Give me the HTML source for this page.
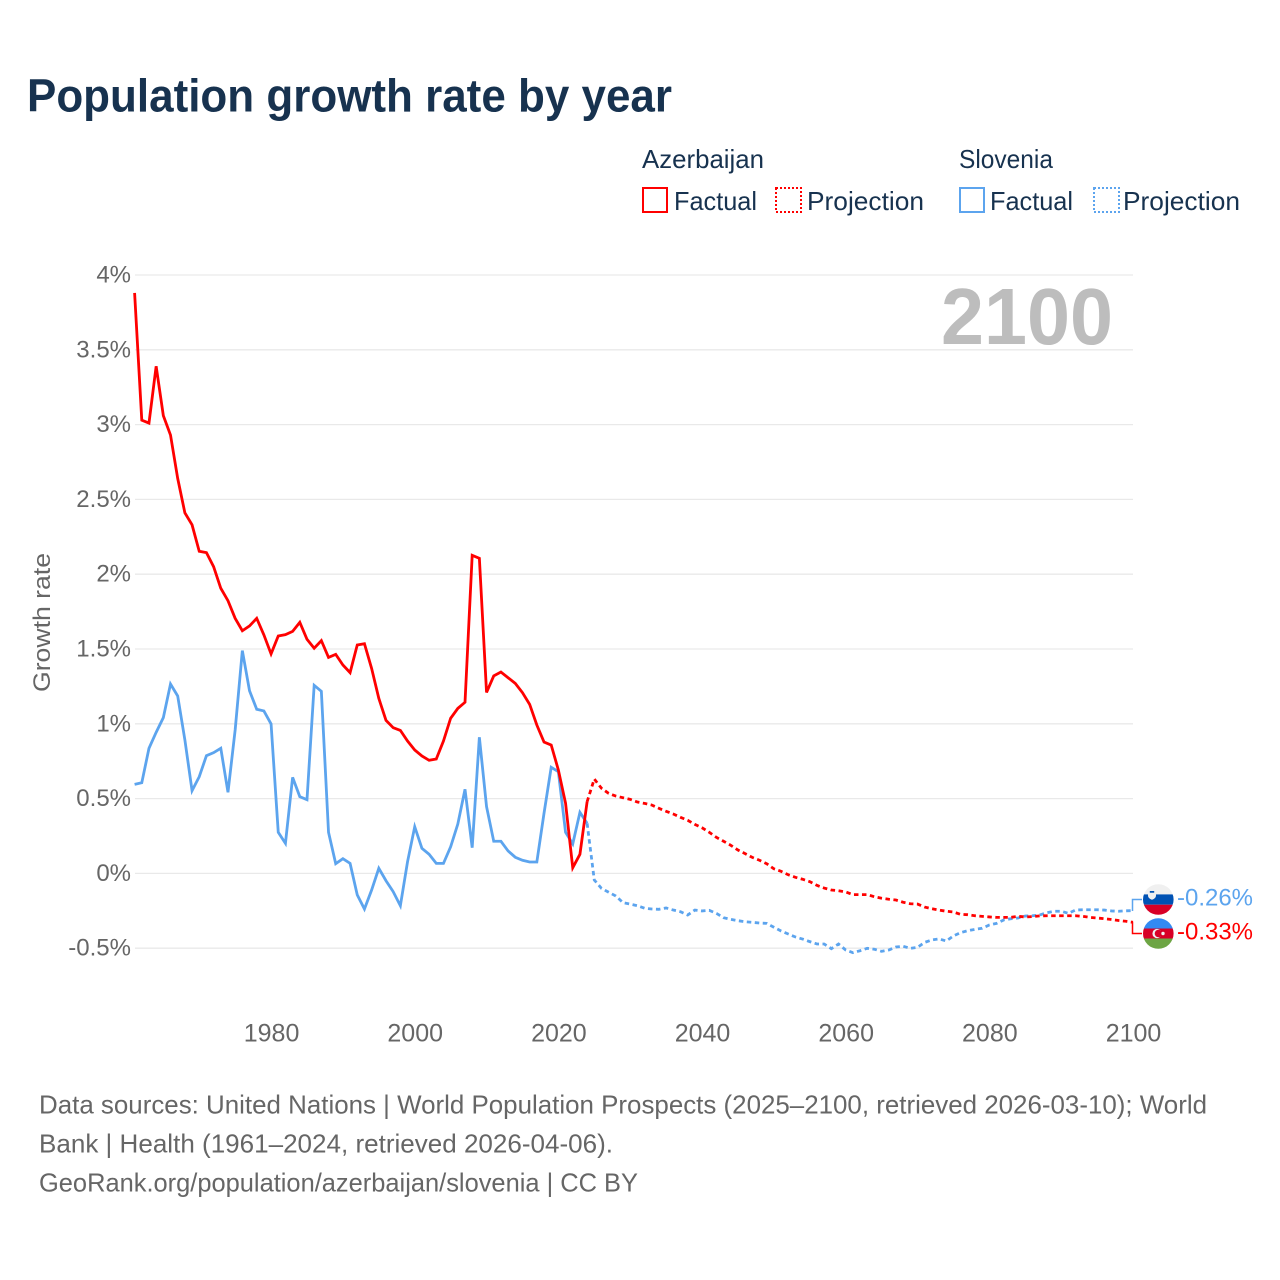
<!DOCTYPE html>
<html lang="en">
<head>
<meta charset="utf-8">
<title>Population growth rate by year</title>
<style>
html,body{margin:0;padding:0;background:#fff}
svg{display:block}
text{font-family:"Liberation Sans",sans-serif}
</style>
</head>
<body>
<svg id="chart" xmlns="http://www.w3.org/2000/svg" width="1280" height="1280" viewBox="0 0 1280 1280">
  <rect x="0" y="0" width="1280" height="1280" fill="#ffffff"/>
  <text x="27" y="111.5" font-size="46" font-weight="700" fill="#17324f" textLength="645" lengthAdjust="spacingAndGlyphs">Population growth rate by year</text>

  <g font-size="26" fill="#17324f">
    <text x="642" y="168" textLength="122" lengthAdjust="spacingAndGlyphs">Azerbaijan</text>
    <text x="959" y="168" textLength="94" lengthAdjust="spacingAndGlyphs">Slovenia</text>
    <rect x="643" y="188" width="24" height="24" fill="none" stroke="#ff0000" stroke-width="2"/>
    <text x="674" y="210" textLength="83" lengthAdjust="spacingAndGlyphs">Factual</text>
    <rect x="776" y="188" width="25" height="24" fill="none" stroke="#ff0000" stroke-width="2" stroke-dasharray="2 2"/>
    <text x="807" y="210" textLength="117" lengthAdjust="spacingAndGlyphs">Projection</text>
    <rect x="960" y="188" width="24" height="24" fill="none" stroke="#5ca4ee" stroke-width="2"/>
    <text x="990" y="210" textLength="83" lengthAdjust="spacingAndGlyphs">Factual</text>
    <rect x="1094" y="188" width="25" height="24" fill="none" stroke="#5ca4ee" stroke-width="2" stroke-dasharray="2 2"/>
    <text x="1123" y="210" textLength="117" lengthAdjust="spacingAndGlyphs">Projection</text>
  </g>

  <g id="grid"></g>
  <g id="yticks" font-size="24" fill="#666666" text-anchor="end"></g>
  <g id="xticks" font-size="25" fill="#666666" text-anchor="middle"></g>
  <text transform="translate(50,622.5) rotate(-90)" font-size="24" fill="#666666" text-anchor="middle" textLength="139" lengthAdjust="spacingAndGlyphs">Growth rate</text>

  <text x="941" y="344" font-size="80" font-weight="700" fill="#bdbdbd" textLength="172" lengthAdjust="spacingAndGlyphs">2100</text>

  <g id="series"></g>

  <defs>
    <clipPath id="clip-si"><circle cx="1158.3" cy="899.5" r="15.3"/></clipPath>
    <clipPath id="clip-az"><circle cx="1158.3" cy="933.5" r="15.3"/></clipPath>
  </defs>
  <path d="M1132.5 911V899.5H1142" fill="none" stroke="#5ca4ee" stroke-width="1.5"/>
  <path d="M1132.5 922V933.5H1142" fill="none" stroke="#ff0000" stroke-width="1.5"/>
  <g clip-path="url(#clip-si)">
    <rect x="1142" y="884" width="33" height="10.4" fill="#f0f0f0"/>
    <rect x="1142" y="894.4" width="33" height="10.3" fill="#0052b4"/>
    <rect x="1142" y="904.7" width="33" height="11" fill="#d80027"/>
    <path d="M1148 890h8v5.5q0 2.8-4 4.3q-4-1.5-4-4.3z" fill="#f0f0f0"/>
    <path d="M1149.8 891h4.4v1.8h-4.4z" fill="#0052b4"/>
  </g>
  <g clip-path="url(#clip-az)">
    <rect x="1142" y="918" width="33" height="10.5" fill="#338af3"/>
    <rect x="1142" y="928.5" width="33" height="10" fill="#d80027"/>
    <rect x="1142" y="938.5" width="33" height="11" fill="#6da544"/>
    <circle cx="1157" cy="933.5" r="4.6" fill="#f0f0f0"/>
    <circle cx="1158.4" cy="933.5" r="3.7" fill="#d80027"/>
    <circle cx="1163" cy="933.5" r="1.7" fill="#f0f0f0"/>
  </g>
  <text x="1177" y="905.5" font-size="24" fill="#5ca4ee" textLength="76" lengthAdjust="spacingAndGlyphs">-0.26%</text>
  <text x="1177" y="939.5" font-size="24" fill="#ff0000" textLength="76" lengthAdjust="spacingAndGlyphs">-0.33%</text>

  <g font-size="26" fill="#666666">
    <text x="39" y="1113.5" textLength="1168" lengthAdjust="spacingAndGlyphs">Data sources: United Nations | World Population Prospects (2025–2100, retrieved 2026-03-10); World</text>
    <text x="39" y="1152.5" textLength="574" lengthAdjust="spacingAndGlyphs">Bank | Health (1961–2024, retrieved 2026-04-06).</text>
    <text x="39" y="1191.5" textLength="599" lengthAdjust="spacingAndGlyphs">GeoRank.org/population/azerbaijan/slovenia | CC BY</text>
  </g>
</svg>
<script>
const factualStartYear = 1961;
const projectionStartYear = 2024;
const yTickValues = [4, 3.5, 3, 2.5, 2, 1.5, 1, 0.5, 0, -0.5];
const yTickLabels = ["4%", "3.5%", "3%", "2.5%", "2%", "1.5%", "1%", "0.5%", "0%", "-0.5%"];
const xTickYears = [1980, 2000, 2020, 2040, 2060, 2080, 2100];
const xTickLabels = ["1980", "2000", "2020", "2040", "2060", "2080", "2100"];

const azerbaijanFactual = [3.88,3.03,3.01,3.39,3.06,2.93,2.64,2.41,2.33,2.153,2.144,2.05,1.906,1.823,1.705,1.622,1.654,1.705,1.594,1.467,1.587,1.596,1.618,1.678,1.565,1.505,1.556,1.444,1.464,1.393,1.342,1.527,1.535,1.37,1.17,1.023,0.974,0.956,0.885,0.825,0.785,0.756,0.765,0.885,1.037,1.103,1.144,2.126,2.106,1.21,1.32,1.346,1.308,1.27,1.208,1.13,0.992,0.878,0.858,0.691,0.469,0.038,0.128,0.479];
const azerbaijanProjection = [0.479,0.631,0.569,0.535,0.517,0.506,0.495,0.477,0.468,0.457,0.435,0.415,0.397,0.375,0.355,0.328,0.305,0.275,0.241,0.215,0.188,0.156,0.132,0.107,0.088,0.065,0.031,0.014,-0.009,-0.026,-0.039,-0.055,-0.08,-0.098,-0.111,-0.116,-0.124,-0.142,-0.142,-0.142,-0.156,-0.166,-0.173,-0.178,-0.193,-0.203,-0.205,-0.225,-0.236,-0.245,-0.253,-0.258,-0.274,-0.276,-0.283,-0.287,-0.291,-0.294,-0.294,-0.294,-0.287,-0.291,-0.289,-0.284,-0.283,-0.283,-0.283,-0.283,-0.283,-0.287,-0.294,-0.298,-0.303,-0.308,-0.315,-0.32,-0.327];
const sloveniaFactual = [0.595,0.606,0.836,0.943,1.041,1.266,1.186,0.892,0.553,0.646,0.787,0.807,0.836,0.542,0.959,1.489,1.221,1.097,1.086,0.999,0.275,0.201,0.642,0.513,0.493,1.257,1.217,0.275,0.065,0.098,0.067,-0.144,-0.238,-0.111,0.034,-0.049,-0.122,-0.216,0.078,0.312,0.168,0.128,0.067,0.067,0.178,0.33,0.562,0.172,0.91,0.446,0.215,0.215,0.15,0.108,0.088,0.076,0.076,0.402,0.709,0.68,0.275,0.197,0.408,0.335];
const sloveniaProjection = [0.335,-0.044,-0.1,-0.126,-0.151,-0.196,-0.205,-0.216,-0.233,-0.238,-0.24,-0.231,-0.245,-0.256,-0.278,-0.245,-0.251,-0.247,-0.267,-0.296,-0.307,-0.316,-0.323,-0.327,-0.332,-0.334,-0.36,-0.385,-0.405,-0.425,-0.439,-0.456,-0.472,-0.472,-0.503,-0.472,-0.512,-0.53,-0.517,-0.501,-0.507,-0.521,-0.512,-0.492,-0.487,-0.501,-0.494,-0.461,-0.445,-0.438,-0.452,-0.418,-0.396,-0.383,-0.374,-0.367,-0.345,-0.334,-0.311,-0.303,-0.298,-0.285,-0.283,-0.278,-0.263,-0.253,-0.253,-0.267,-0.245,-0.243,-0.243,-0.243,-0.245,-0.251,-0.253,-0.25,-0.249];

const NS = 'http://www.w3.org/2000/svg';
const xAxis = function (year) { return 134.6 + (year - 1961) * (998.4 / 139); };
const yAxis = function (value) { return 873.4 - value * 149.6; };

const gridGroup = document.getElementById('grid');
const yTickGroup = document.getElementById('yticks');
const xTickGroup = document.getElementById('xticks');
const seriesGroup = document.getElementById('series');

yTickValues.forEach(function (value, i) {
  const line = document.createElementNS(NS, 'line');
  
  
  line.setAttribute('x1', 135);
  line.setAttribute('x2', 1133);
  line.setAttribute('y1', yAxis(value));
  line.setAttribute('y2', yAxis(value));
  line.setAttribute('stroke', '#e9e9e9');
  line.setAttribute('stroke-width', '1.3');
  gridGroup.appendChild(line);

  const label = document.createElementNS(NS, 'text');
  
  
  label.setAttribute('x', 131);
  label.setAttribute('y', yAxis(value) + 7.5);
  label.textContent = yTickLabels[i];
  yTickGroup.appendChild(label);
});

xTickYears.forEach(function (year, i) {
  const label = document.createElementNS(NS, 'text');
  
  
  label.setAttribute('x', xAxis(year) + 0.5);
  label.setAttribute('y', 1041.5);
  label.textContent = xTickLabels[i];
  xTickGroup.appendChild(label);
});

function drawLine(values, startYear, color, dashed) {
  const points = values.map(function (value, i) {
    return xAxis(startYear + i).toFixed(2) + ',' + yAxis(value).toFixed(2);
  }).join(' ');
  const path = document.createElementNS(NS, 'polyline');
  path.setAttribute('points', points);
  path.setAttribute('fill', 'none');
  path.setAttribute('stroke', color);
  path.setAttribute('stroke-width', '2.8');
  path.setAttribute('stroke-linejoin', 'miter');
  if (dashed) {
    path.setAttribute('stroke-dasharray', '4.5 3.5');
  }
  seriesGroup.appendChild(path);
  return path;
}

const sloveniaProjectionLine = drawLine(sloveniaProjection, projectionStartYear, '#5ca4ee', true);


const azerbaijanProjectionLine = drawLine(azerbaijanProjection, projectionStartYear, '#ff0000', true);


const sloveniaFactualLine = drawLine(sloveniaFactual, factualStartYear, '#5ca4ee', false);


const azerbaijanFactualLine = drawLine(azerbaijanFactual, factualStartYear, '#ff0000', false);


</script>
</body>
</html>
